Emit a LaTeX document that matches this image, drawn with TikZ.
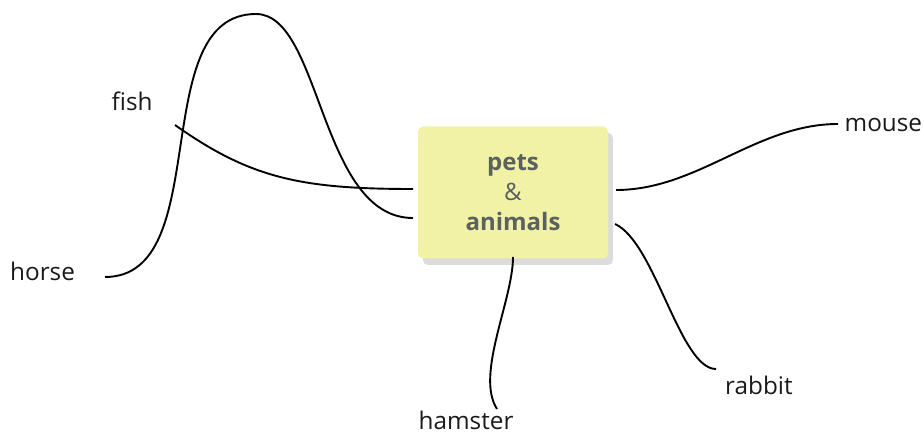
\documentclass[tikz,border=0pt]{standalone}
\usepackage{fontspec}
\setmainfont{Open Sans}
\definecolor{boxfill}{HTML}{F2F2A6}
\definecolor{boxshadow}{HTML}{DCDCDC}
\definecolor{boxtext}{HTML}{59625F}
\definecolor{labeltext}{HTML}{1A1A1A}
\begin{document}
\begin{tikzpicture}[x=1pt,y=1pt,yscale=-1,
  lbl/.style={anchor=base west,inner sep=0pt,text=labeltext,font=\fontsize{24.3}{30}\selectfont},
  centralbox/.style={fill=boxfill,rounded corners=5pt,minimum width=190pt,minimum height=132pt,inner sep=0pt,align=center,text=boxtext,font=\fontsize{24}{30}\selectfont},
  link/.style={draw=black,line width=1.9pt}]
\useasboundingbox (0,0) rectangle (924,435);
% shadow
\fill[boxshadow,rounded corners=5pt] (423,133) rectangle (613,265);
\node[centralbox] (pets) at (513,192.5) {\textbf{pets}\\\&\\\textbf{animals}};
% labels
\node[lbl] (fish) at (111.5,111) {fish};
\node[lbl] (horse) at (10,281) {horse};
\node[lbl] (mouse) at (844.5,131.5) {mouse};
\node[lbl] (rabbit) at (725,395) {rabbit};
\node[lbl] (hamster) at (418.5,430) {hamster};
% connector end points
\coordinate (fishend) at (175,125);
\coordinate (horseend) at (105,277);
\coordinate (mouseend) at (838,124);
\coordinate (rabbitend) at (716,369);
\coordinate (hamsterend) at (497,409);
\coordinate (peak) at (256,14);
\coordinate (pL1) at (413,189);
\coordinate (pL2) at (413,218);
\coordinate (pR1) at (616,190);
\coordinate (pR2) at (615,224);
\coordinate (pB) at (513,257);
% connectors
\draw[link] (fishend) .. controls (250,178) and (300,189) .. (pL1);
\draw[link] (horseend) .. controls (216,277) and (145,14) .. (peak)
  .. controls (321.5,14) and (319.5,218) .. (pL2);
\draw[link] (pR1) .. controls (698,190) and (756,124) .. (mouseend);
\draw[link] (pR2) .. controls (655,242) and (680,369) .. (rabbitend);
\draw[link] (pB) .. controls (513,300) and (475,375) .. (hamsterend);
\end{tikzpicture}
\end{document}
